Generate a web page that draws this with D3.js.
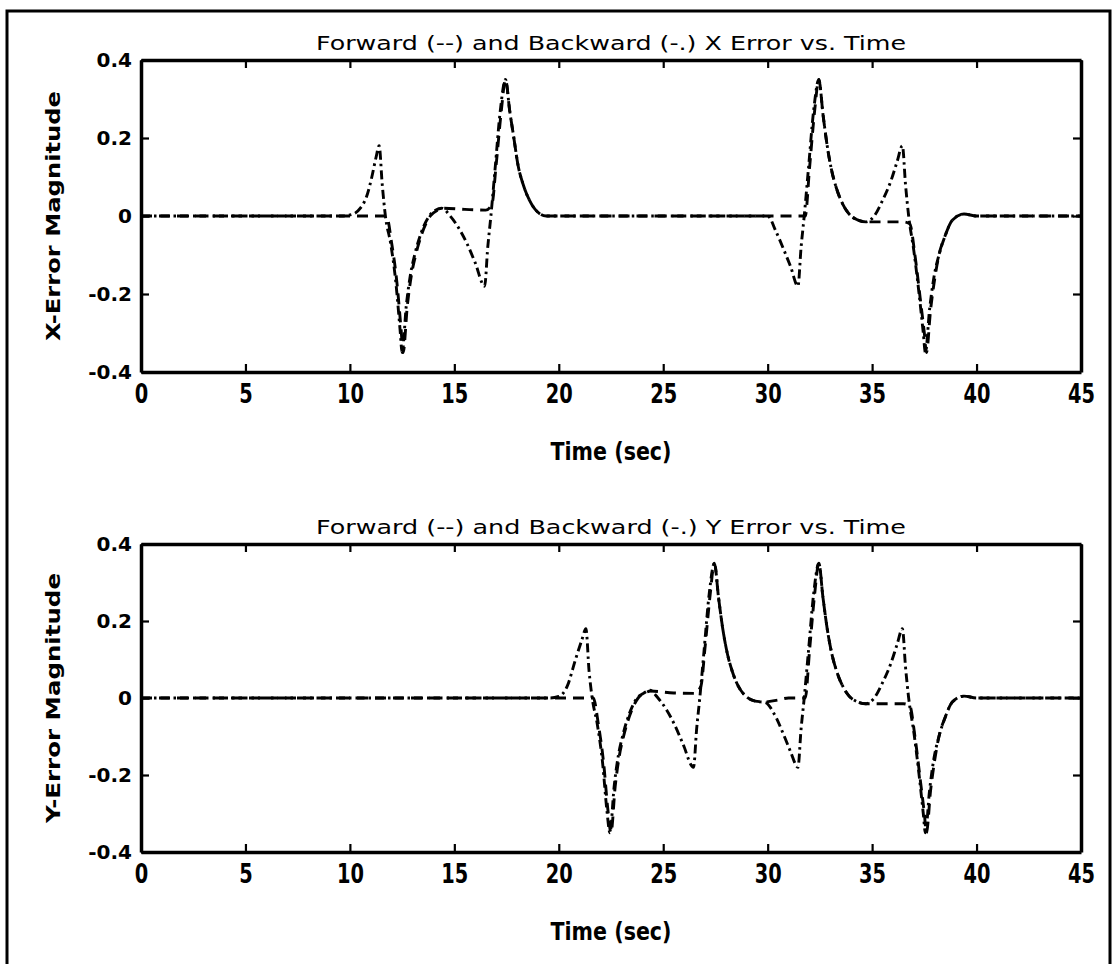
<!DOCTYPE html>
<html>
<head>
<meta charset="utf-8">
<script src="https://cdn.jsdelivr.net/npm/d3@7"></script>
<style>
  html, body { margin: 0; padding: 0; background: #fff; }
  svg { display: block; }
</style>
</head>
<body>
<svg id="chart" width="1117" height="964"></svg>
<script>
// ---------------- data ----------------
const xTicks = [0, 5, 10, 15, 20, 25, 30, 35, 40, 45];
const yTicks = [-0.4, -0.2, 0, 0.2, 0.4];
const yTickLabels = ["-0.4", "-0.2", "0", "0.2", "0.4"];

const titles = ["Forward (--) and Backward (-.) X Error vs. Time",
                "Forward (--) and Backward (-.) Y Error vs. Time"];
const yLabels = ["X-Error Magnitude", "Y-Error Magnitude"];
const xLabel = "Time (sec)";

// X error, forward (dashed)
const xFwdT = [0, 11.75, 12.0, 12.25, 12.45, 12.55, 12.75, 12.95, 13.15, 13.45, 13.85, 14.2, 14.5, 15.5, 16.5, 16.8, 17.0, 17.25, 17.45, 17.65, 17.85, 18.05, 18.3, 18.6, 18.9, 19.4,
               31.8, 32.0, 32.25, 32.45, 32.65, 32.85, 33.05, 33.3, 33.6, 33.9, 34.3, 34.7, 35.5, 36.5, 36.8, 37.05, 37.3, 37.5, 37.6, 37.8, 38.0, 38.2, 38.5, 38.85, 39.4, 40, 45];
const xFwdV = [0, 0, -0.07, -0.17, -0.29, -0.35, -0.23, -0.15, -0.1, -0.045, 0.0, 0.015, 0.02, 0.017, 0.015, 0.03, 0.13, 0.27, 0.35, 0.27, 0.2, 0.13, 0.08, 0.04, 0.015, 0,
               0, 0.12, 0.27, 0.35, 0.26, 0.18, 0.12, 0.07, 0.03, 0.005, -0.01, -0.015, -0.015, -0.015, -0.02, -0.1, -0.21, -0.3, -0.35, -0.24, -0.16, -0.1, -0.05, -0.01, 0.005, 0, 0];

// X error, backward (dash-dot)
const xBwdT = [0, 9.6, 10.1, 10.5, 10.8, 11.05, 11.25, 11.4, 11.55, 11.7, 11.95, 12.2, 12.4, 12.5, 12.7, 12.9, 13.1, 13.4, 13.8, 14.1, 14.4, 14.8, 15.2, 15.6, 16.0, 16.45, 16.6, 16.75, 16.95, 17.2, 17.45, 17.65, 17.85, 18.05, 18.3, 18.6, 18.9, 19.4,
               30.0, 30.4, 30.8, 31.1, 31.45, 31.6, 31.75, 31.95, 32.2, 32.45, 32.65, 32.85, 33.05, 33.3, 33.6, 33.9, 34.3, 34.7, 35.1, 35.5, 35.9, 36.2, 36.45, 36.6, 36.75, 37.0, 37.25, 37.45, 37.55, 37.75, 37.95, 38.2, 38.5, 38.85, 39.4, 40, 45];
const xBwdV = [0, 0, 0.004, 0.02, 0.05, 0.1, 0.15, 0.18, 0.08, 0.0, -0.07, -0.17, -0.29, -0.35, -0.23, -0.15, -0.1, -0.045, 0.0, 0.015, 0.02, 0.0, -0.03, -0.07, -0.12, -0.18, -0.08, 0.0, 0.12, 0.27, 0.35, 0.27, 0.2, 0.13, 0.08, 0.04, 0.015, 0,
               0, -0.04, -0.09, -0.13, -0.18, -0.08, 0.0, 0.12, 0.27, 0.35, 0.26, 0.18, 0.12, 0.07, 0.03, 0.005, -0.01, -0.015, 0.0, 0.04, 0.09, 0.14, 0.18, 0.08, 0.0, -0.09, -0.2, -0.3, -0.35, -0.24, -0.16, -0.1, -0.05, -0.01, 0.005, 0, 0];

// Y error, forward (dashed)
const yFwdT = [0, 21.65, 21.9, 22.15, 22.35, 22.5, 22.7, 22.9, 23.1, 23.4, 23.8, 24.1, 24.4, 25.5, 26.5, 26.8, 27.0, 27.25, 27.45, 27.65, 27.85, 28.05, 28.3, 28.6, 28.95, 29.4, 29.9, 30.5, 31.0,
               31.8, 32.0, 32.25, 32.45, 32.65, 32.85, 33.05, 33.3, 33.6, 33.9, 34.3, 34.7, 35.5, 36.5, 36.8, 37.05, 37.3, 37.5, 37.6, 37.8, 38.0, 38.2, 38.5, 38.85, 39.4, 40, 45];
const yFwdV = [0, 0, -0.07, -0.17, -0.29, -0.35, -0.23, -0.15, -0.1, -0.045, 0, 0.012, 0.018, 0.013, 0.012, 0.03, 0.13, 0.27, 0.35, 0.26, 0.18, 0.12, 0.07, 0.03, 0.005, -0.008, -0.01, -0.005, 0,
               0, 0.12, 0.27, 0.35, 0.26, 0.18, 0.12, 0.07, 0.03, 0.005, -0.01, -0.015, -0.015, -0.015, -0.02, -0.1, -0.21, -0.3, -0.35, -0.24, -0.16, -0.1, -0.05, -0.01, 0.005, 0, 0];

// Y error, backward (dash-dot)
const yBwdT = [0, 19.6, 20.0, 20.4, 20.8, 21.1, 21.3, 21.45, 21.6, 21.85, 22.1, 22.3, 22.45, 22.65, 22.85, 23.05, 23.35, 23.75, 24.05, 24.35, 24.75, 25.15, 25.55, 25.95, 26.45, 26.6, 26.75, 26.95, 27.2, 27.45, 27.65, 27.85, 28.05, 28.3, 28.6, 28.95, 29.4, 29.9,
               30.3, 30.8, 31.1, 31.45, 31.6, 31.75, 31.95, 32.2, 32.45, 32.65, 32.85, 33.05, 33.3, 33.6, 33.9, 34.3, 34.7, 35.1, 35.5, 35.9, 36.2, 36.45, 36.6, 36.75, 37.0, 37.25, 37.45, 37.55, 37.75, 37.95, 38.2, 38.5, 38.85, 39.4, 40, 45];
const yBwdV = [0, 0, 0.004, 0.03, 0.1, 0.15, 0.18, 0.07, 0, -0.07, -0.17, -0.29, -0.35, -0.23, -0.15, -0.1, -0.045, 0, 0.012, 0.02, 0.0, -0.03, -0.07, -0.12, -0.18, -0.08, 0, 0.12, 0.27, 0.35, 0.26, 0.18, 0.12, 0.07, 0.03, 0.005, -0.008, -0.012,
               -0.04, -0.1, -0.14, -0.18, -0.08, 0.0, 0.12, 0.27, 0.35, 0.26, 0.18, 0.12, 0.07, 0.03, 0.005, -0.01, -0.015, 0.0, 0.04, 0.09, 0.14, 0.18, 0.08, 0.0, -0.09, -0.2, -0.3, -0.35, -0.24, -0.16, -0.1, -0.05, -0.01, 0.005, 0, 0];

// ---------------- drawing ----------------
const svg = d3.select("#chart");
svg.append("rect").attr("width", 1117).attr("height", 964).attr("fill", "#fff");

// outer frame
svg.append("rect")
  .attr("x", 7).attr("y", 11).attr("width", 1103).attr("height", 990)
  .attr("fill", "none").attr("stroke", "#000").attr("stroke-width", 3);

const panels = [
  { top: 60,  bottom: 372, fwdT: xFwdT, fwdV: xFwdV, bwdT: xBwdT, bwdV: xBwdV },
  { top: 544, bottom: 852, fwdT: yFwdT, fwdV: yFwdV, bwdT: yBwdT, bwdV: yBwdV }
];
const left = 141, right = 1081;
const FONT = "'DejaVu Sans', 'Liberation Sans', sans-serif";

panels.forEach((p, i) => {
  const x = d3.scaleLinear().domain([0, 45]).range([left, right]);
  const y = d3.scaleLinear().domain([-0.4, 0.4]).range([p.bottom, p.top]);
  const g = svg.append("g");

  const line = d3.line().x(d => x(d[0])).y(d => y(d[1])).curve(d3.curveMonotoneX);
  const fwd = p.fwdT.map((t, k) => [t, p.fwdV[k]]);
  const bwd = p.bwdT.map((t, k) => [t, p.bwdV[k]]);

  g.append("path").datum(fwd).attr("d", line)
    .attr("fill", "none").attr("stroke", "#000").attr("stroke-width", 2.9)
    .attr("stroke-dasharray", "11,7");
  g.append("path").datum(bwd).attr("d", line)
    .attr("fill", "none").attr("stroke", "#000").attr("stroke-width", 2.9)
    .attr("stroke-dasharray", "9,4,2.5,4");

  // axes with inward ticks on all four sides
  const fmt = v => yTickLabels[yTicks.indexOf(v)];
  const ax = [
    g.append("g").attr("transform", `translate(0,${p.bottom})`)
      .call(d3.axisBottom(x).tickValues(xTicks).tickFormat(d3.format("d")).tickSizeInner(-8).tickSizeOuter(0).tickPadding(15)),
    g.append("g").attr("transform", `translate(0,${p.top})`)
      .call(d3.axisTop(x).tickValues(xTicks).tickFormat("").tickSizeInner(-8).tickSizeOuter(0)),
    g.append("g").attr("transform", `translate(${left},0)`)
      .call(d3.axisLeft(y).tickValues(yTicks).tickFormat(fmt).tickSizeInner(-8).tickSizeOuter(0).tickPadding(9)),
    g.append("g").attr("transform", `translate(${right},0)`)
      .call(d3.axisRight(y).tickValues(yTicks).tickFormat("").tickSizeInner(-8).tickSizeOuter(0))
  ];
  ax.forEach(a => {
    a.select(".domain").attr("stroke", "#000").attr("stroke-width", 3.5);
    a.selectAll(".tick line").attr("stroke", "#000").attr("stroke-width", 2.2);
    a.selectAll(".tick text").attr("fill", "#000")
      .style("font-family", FONT).style("font-size", "20px").style("font-weight", "bold");
  });
  // x tick labels in the reference are drawn taller than wide
  ax[0].selectAll(".tick text")
    .attr("y", 0).attr("dy", "0.71em")
    .attr("transform", "translate(0,13) scale(0.97,1.3)");

  // title
  g.append("text")
    .attr("x", (left + right) / 2).attr("y", p.top - 10)
    .attr("text-anchor", "middle")
    .style("font-family", FONT).style("font-size", "20px")
    .attr("textLength", 590).attr("lengthAdjust", "spacingAndGlyphs")
    .text(titles[i]);

  // x label
  g.append("text")
    .attr("transform", `translate(${(left + right) / 2},${p.bottom + 88}) scale(1.03,1.2)`)
    .attr("text-anchor", "middle")
    .style("font-family", FONT).style("font-size", "20px").style("font-weight", "bold")
    .text(xLabel);

  // y label
  const cy = (p.top + p.bottom) / 2;
  g.append("text")
    .attr("transform", `translate(60,${cy}) rotate(-90)`)
    .attr("text-anchor", "middle")
    .style("font-family", FONT).style("font-size", "20px").style("font-weight", "bold")
    .attr("textLength", 250).attr("lengthAdjust", "spacingAndGlyphs")
    .text(yLabels[i]);
});
</script>
</body>
</html>
